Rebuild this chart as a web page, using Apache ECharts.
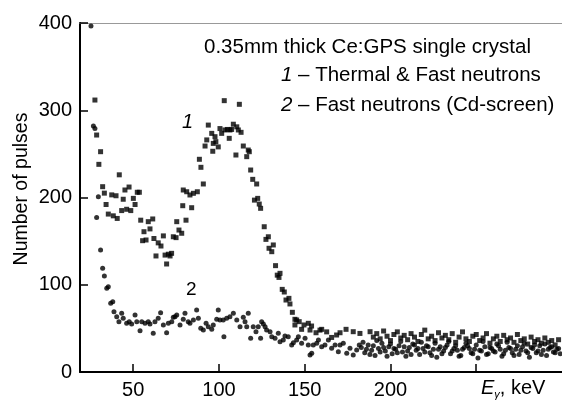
<!DOCTYPE html>
<html>
<head>
<meta charset="utf-8">
<script src="https://cdn.jsdelivr.net/npm/echarts@6/dist/echarts.min.js"></script>
<style>
  html, body { margin: 0; padding: 0; background: #fff; }
  #chart { width: 562px; height: 401px; }
</style>
</head>
<body>
<div id="chart"></div>
<script>
// curve 1: thermal & fast neutrons (squares)
const s1X = [27.7, 28.7, 30.0, 31.0, 32.2, 33.2, 34.2, 35.5, 37.5, 38.4, 40.0, 40.7, 41.9, 43.3, 44.2, 45.2, 46.2, 47.6, 48.6, 50.1,
  51.1, 52.4, 53.6, 54.4, 55.5, 56.3, 57.5, 58.8, 59.8, 61.4, 62.1, 63.3, 64.6, 66.2, 67.6, 68.6, 69.5, 70.5, 71.5, 72.4,
  73.4, 75.0, 75.4, 76.7, 78.3, 78.9, 79.2, 80.8, 81.2, 83.1, 84.1, 85.1, 87.4, 88.6, 89.5, 90.9, 91.9, 92.9, 93.8, 95.8,
  96.4, 96.7, 97.7, 98.2, 99.6, 100.6, 101.6, 103.1, 103.5, 104.9, 106.0, 106.4, 107.4, 108.4, 109.9, 110.4, 111.3, 111.9, 112.9, 114.2,
  116.2, 117.1, 117.7, 118.5, 119.7, 120.7, 122.0, 122.6, 123.5, 124.3, 126.4, 127.4, 128.8, 129.2, 130.8, 131.7, 133.0, 134.0, 135.0, 135.6,
  136.9, 138.1, 139.1, 140.8, 141.4, 142.8, 144.3, 145.3, 144.3, 146.8, 148.2, 149.6, 152.1, 153.1, 154.0, 156.6, 158.9, 159.9, 162.8, 165.7,
  168.6, 170.6, 174.1, 178.3, 182.2, 188.1,
  190, 192, 194, 196, 198, 200, 202, 204, 206, 208, 210, 212, 214, 216, 218, 220, 222, 224, 226, 228,
  230, 232, 234, 236, 238, 240, 242, 244, 246, 248, 250, 252, 254, 256, 258, 260, 262, 264, 266, 268,
  270, 272, 274, 276, 278, 280, 282, 284, 286, 288, 290, 292, 294, 296, 298];
const s1Y = [311.7, 271.6, 238, 252.5, 212.4, 205, 192, 181, 203, 179, 202, 176, 226, 185, 198, 208.6, 186.5, 212, 185, 199,
  192, 206, 206, 174, 150.5, 160.8, 151.3, 172.3, 164, 175.4, 153, 133, 148, 144.4, 156, 134, 123.8, 135, 133, 136,
  155, 154, 172.3, 162.7, 159, 190.6, 208.6, 174, 206.6, 202.9, 188.3, 204.8, 206.6, 243.8, 234.6, 215.5, 259, 266, 283, 273.5,
  253, 262, 269.7, 264, 258, 279, 273.5, 311, 277.4, 278, 267.8, 277.4, 278, 284, 248.7, 281, 277.4, 306.8, 274.7, 259,
  246.8, 254.4, 252.5, 231.5, 220.8, 197, 215.5, 199, 192.5, 187.6, 166.5, 152, 155, 141.8, 137.9, 145.6, 121.9, 111, 108.4, 113.1,
  94.7, 91.7, 82.5, 84.4, 78, 68.4, 60.4, 59.6, 53.9, 57.7, 48.9, 53.9, 55.8, 48.1, 52.7, 45, 48, 48.9, 46, 39.6,
  42.4, 45, 48.9, 46.2, 44.2, 46.2,
  40, 44, 38, 47, 41, 36, 43, 46, 39, 42, 37, 44, 40, 35, 43, 48, 38, 41, 36, 45,
  39, 42, 37, 44, 34, 40, 46, 38, 35, 41, 43, 36, 39, 44, 33, 38, 41, 35, 42, 37,
  39, 34, 43, 36, 38, 32, 40, 35, 37, 33, 39, 34, 36, 31, 37];

// curve 2: fast neutrons, Cd-screen (circles)
const s2X = [25.4, 26.8, 27.7, 28.7, 29.7, 31.0, 32.2, 33.2, 34.6, 35.5, 36.9, 38.1, 38.8, 40.4, 41.7, 43.3, 44.2, 46.2, 47.7, 49.1,
  51.1, 52.1, 54.0, 55.0, 56.9, 58.8, 59.8, 61.7, 62.7, 64.6, 66.0, 67.6, 69.5, 70.5, 72.5, 73.4, 74.4, 75.4, 77.3, 79.2,
  80.2, 82.1, 83.1, 85.1, 87.0, 88.0, 89.4, 90.9, 92.5, 93.8, 95.8, 96.7, 98.7, 99.6, 100.6, 102.5, 102.9, 104.5, 106.4, 108.4,
  110.4, 112.3, 114.2, 115.2, 116.2, 117.1, 118.5, 120.0, 121.6, 122.9, 124.3, 124.9, 125.9, 126.9, 127.8, 129.8, 130.8, 132.7, 134.6, 135.6,
  137.5, 138.5, 140.4, 142.4, 143.4, 145.3, 146.3, 148.2, 150.2, 152.1, 153.1, 154.1, 155.0, 157.0, 158.0, 159.9, 161.8, 163.8, 165.7, 167.7,
  169.6, 170.6, 172.5, 174.5, 176.4, 178.3, 180.3, 181.8,
  183, 185, 187, 189, 191, 193, 195, 197, 199, 201, 203, 205, 207, 209, 211, 213, 215, 217, 219, 221,
  223, 225, 227, 229, 231, 233, 235, 237, 239, 241, 243, 245, 247, 249, 251, 253, 255, 257, 259, 261,
  263, 265, 267, 269, 271, 273, 275, 277, 279, 281, 283, 285, 287, 289, 291, 293, 295, 297, 299,
  184, 186, 188, 190, 192, 194, 196, 198, 200, 202, 204, 206, 208, 210, 212, 214, 216, 218, 220, 222,
  224, 226, 228, 230, 232, 234, 236, 238, 240, 242, 244, 246, 248, 250, 252, 254, 256, 258, 260, 262,
  264, 266, 268, 270, 272, 274, 276, 278, 280, 282, 284, 286, 288, 290, 292, 294, 296, 298];
const s2Y = [396.6, 282, 279, 177, 201, 139.8, 118.8, 110, 96, 97.8, 78.7, 80.6, 69, 63.4, 57.7, 67.3, 61.5, 55.8, 57.7, 55,
  65.3, 57.7, 47.3, 57.7, 55.8, 57.7, 55, 44.4, 57.7, 61.5, 68, 53.9, 45, 55.8, 57.7, 62.7, 63.4, 65.3, 53.9, 60.4,
  67.3, 57.7, 55.8, 59.6, 71, 61.5, 50.1, 48.1, 55.8, 51.9, 48.9, 53.9, 60.4, 71, 59.6, 59.6, 40.5, 61.5, 63.4, 67.3,
  59.6, 51.9, 62.7, 57.7, 51.9, 67.3, 38.6, 51.9, 46.2, 51.9, 38.6, 57.7, 55, 51.9, 48.1, 46.2, 40.5, 38.6, 44.3, 34.7,
  36.7, 41.3, 40.5, 30.9, 33.6, 36.7, 40.5, 32.9, 38.6, 30.9, 19.5, 21.4, 30.9, 32.9, 36.7, 29, 30.9, 36.7, 27.1, 30.9,
  23.3, 30.9, 32.9, 21.4, 27.1, 19.5, 25.2, 30.9,
  28, 22, 31, 25, 19, 27, 33, 24, 29, 21, 26, 30, 23, 18, 28, 32, 25, 20, 27, 30,
  22, 26, 17, 29, 24, 31, 21, 27, 25, 19, 28, 30, 22, 26, 16, 24, 29, 21, 27, 23,
  30, 18, 25, 28, 22, 26, 20, 29, 24, 17, 27, 22, 30, 25, 19, 28, 23, 26, 21,
  34, 26, 20, 30, 36, 23, 28, 18, 32, 27, 22, 35, 29, 24, 20, 31, 27, 34, 23, 29,
  19, 33, 26, 21, 28, 35, 24, 30, 18, 26, 33, 27, 21, 31, 25, 35, 20, 28, 24, 32,
  26, 21, 34, 27, 19, 30, 25, 33, 22, 28, 31, 24, 20, 32, 26, 29, 22, 27];

const xTicks = [50, 100, 150, 200, 250];
const xLabels = [50, 100, 150, 200];

const pairs = (xs, ys) => xs.map((x, i) => [x, ys[i]]);

const chart = echarts.init(document.getElementById('chart'));
const font = 'Liberation Sans, Arial, sans-serif';

const option = {
  animation: false,
  backgroundColor: '#fff',
  grid: { left: 80, right: 0, top: 23, bottom: 29 },
  xAxis: [
    {
      type: 'value',
      min: 19,
      max: 300,
      axisLine: { onZero: false, lineStyle: { color: '#000', width: 2 } },
      axisTick: { inside: true, length: 8, customValues: xTicks, lineStyle: { color: '#000', width: 1.5 } },
      axisLabel: { customValues: xLabels, fontSize: 20, margin: 8, color: '#000', fontFamily: font },
      splitLine: { show: false }
    },
    {
      type: 'value',
      position: 'top',
      min: 19,
      max: 300,
      axisLine: { onZero: false, lineStyle: { color: '#999', width: 1 } },
      axisTick: { show: false },
      axisLabel: { show: false },
      splitLine: { show: false }
    }
  ],
  yAxis: {
    type: 'value',
    min: 0,
    max: 400,
    interval: 100,
    axisLine: { lineStyle: { color: '#000', width: 2 } },
    axisTick: { inside: true, length: 8, lineStyle: { color: '#000', width: 1.5 } },
    axisLabel: { fontSize: 20, margin: 8, color: '#000', fontFamily: font },
    splitLine: { show: false }
  },
  series: [
    {
      name: '1',
      type: 'scatter',
      symbol: 'rect',
      symbolSize: 5,
      itemStyle: { color: '#000' },
      data: pairs(s1X, s1Y)
    },
    {
      name: '2',
      type: 'scatter',
      symbol: 'circle',
      symbolSize: 5,
      itemStyle: { color: '#000' },
      data: pairs(s2X, s2Y)
    }
  ],
  graphic: [
    {
      // y axis title
      type: 'text', x: 22, y: 189, rotation: Math.PI / 2,
      style: { text: 'Number of pulses', fontSize: 19.5, fill: '#000', fontFamily: font, align: 'center', verticalAlign: 'middle' }
    },
    {
      type: 'text', left: 204, top: 37,
      style: { text: '0.35mm thick Ce:GPS single crystal', fontSize: 20.5, fill: '#000', fontFamily: font }
    },
    {
      type: 'text', left: 281, top: 65,
      style: {
        text: '{i|1} – Thermal & Fast neutrons',
        fontSize: 20.5, fill: '#000', fontFamily: font,
        rich: { i: { fontStyle: 'italic', fontSize: 20.5, fontFamily: font } }
      }
    },
    {
      type: 'text', left: 281, top: 95,
      style: {
        text: '{i|2} – Fast neutrons (Cd-screen)',
        fontSize: 20.5, fill: '#000', fontFamily: font,
        rich: { i: { fontStyle: 'italic', fontSize: 20.5, fontFamily: font } }
      }
    },
    {
      type: 'text', left: 182, top: 112,
      style: { text: '1', fontSize: 20, fontStyle: 'italic', fill: '#000', fontFamily: font }
    },
    {
      type: 'text', left: 186, top: 280,
      style: { text: '2', fontSize: 19, fill: '#000', fontFamily: font }
    },
    {
      type: 'text', left: 481, top: 378,
      style: {
        text: '{e|E}{g|γ}, keV',
        fontSize: 20, fill: '#000', fontFamily: font,
        rich: {
          e: { fontStyle: 'italic', fontSize: 20, fontFamily: font },
          g: { fontStyle: 'italic', fontSize: 11, fontFamily: font, padding: [14, 0, 0, 0] }
        }
      }
    }
  ]
};

chart.setOption(option);
</script>
</body>
</html>
